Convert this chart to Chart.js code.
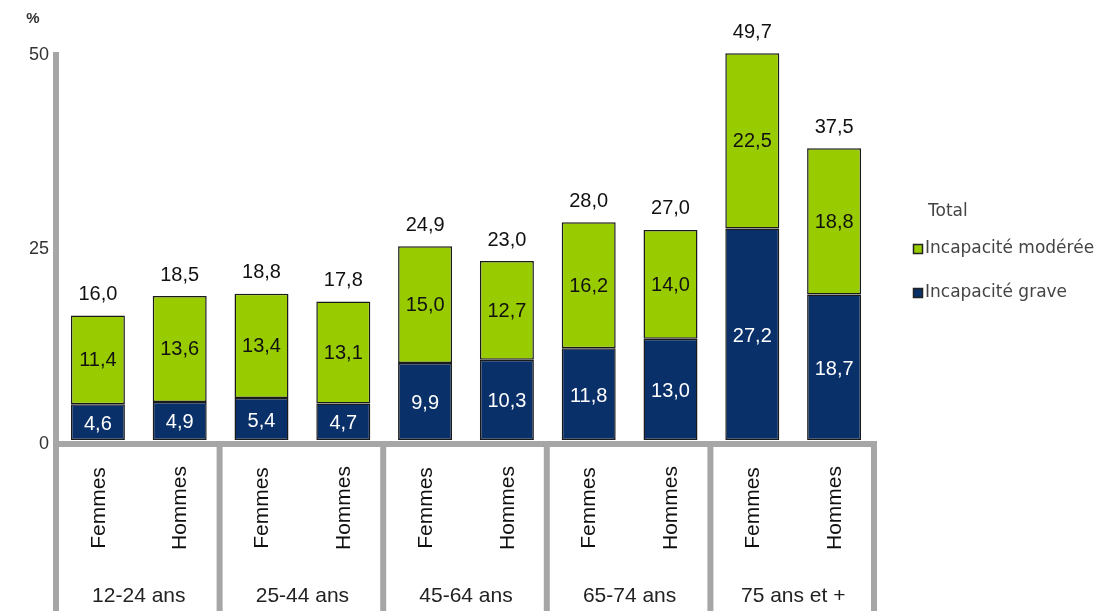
<!DOCTYPE html>
<html>
<head>
<meta charset="utf-8">
<script src="https://cdn.jsdelivr.net/npm/chart.js@4.4.0/dist/chart.umd.min.js"></script>
<style>
  html, body { margin: 0; padding: 0; background: #fff; }
  #wrap { position: relative; width: 1110px; height: 611px; }
</style>
</head>
<body>
<div id="wrap"><canvas id="chart" width="1110" height="611"></canvas></div>
<script>
// Data
const sexes = ["Femmes", "Hommes", "Femmes", "Hommes", "Femmes", "Hommes", "Femmes", "Hommes", "Femmes", "Hommes"];
const ageGroups = ["12-24 ans", "25-44 ans", "45-64 ans", "65-74 ans", "75 ans et +"];
const grave = [4.6, 4.9, 5.4, 4.7, 9.9, 10.3, 11.8, 13.0, 27.2, 18.7];
const moderee = [11.4, 13.6, 13.4, 13.1, 15.0, 12.7, 16.2, 14.0, 22.5, 18.8];
const totals = [16.0, 18.5, 18.8, 17.8, 24.9, 23.0, 28.0, 27.0, 49.7, 37.5];
const yTicks = [0, 25, 50];

const GREEN = "#99cc00";
const NAVY = "#0a3069";
const AXIS = "#a6a6a6";
const FONT = "'Liberation Sans', Arial, sans-serif";
const LEGEND_FONT = "'DejaVu Sans', Verdana, sans-serif";

const fmt = v => v.toFixed(1).replace(".", ",");

// Draws axis lines, group separators, labels and legend
const decorations = {
  id: "decorations",
  beforeDatasetsDraw(chart) {
    const { ctx, chartArea, scales } = chart;
    const x = scales.x;
    const step = x.getPixelForValue(1) - x.getPixelForValue(0);
    ctx.save();
    ctx.fillStyle = AXIS;
    // horizontal base line
    ctx.fillRect(chartArea.left - 3, chartArea.bottom + 1, chartArea.right - chartArea.left + 3, 6);
    // vertical y axis, running down through the category area
    ctx.fillRect(chartArea.left - 4, chartArea.top + 1, 6, chart.height - chartArea.top);
    // group separators
    for (let g = 1; g <= ageGroups.length; g++) {
      const sx = x.getPixelForValue(g * 2 - 1) + step / 2;
      ctx.fillRect(sx - 4, chartArea.bottom + 1, 6, chart.height - chartArea.bottom);
    }
    ctx.restore();
  },
  afterDatasetsDraw(chart) {
    const { ctx, scales } = chart;
    const x = scales.x, y = scales.y;
    ctx.save();
    ctx.textAlign = "center";
    ctx.textBaseline = "middle";

    // y tick labels
    ctx.font = "18px " + FONT;
    ctx.fillStyle = "#333";
    ctx.textAlign = "right";
    yTicks.forEach(v => ctx.fillText(String(v), 49, y.getPixelForValue(v) + 4));
    ctx.textAlign = "center";

    ctx.font = "20px " + FONT;
    sexes.forEach((s, i) => {
      const cx = x.getPixelForValue(i);
      // segment values
      ctx.fillStyle = "#fff";
      ctx.fillText(fmt(grave[i]), cx, y.getPixelForValue(grave[i] / 2) + 2);
      ctx.fillStyle = "#111";
      ctx.fillText(fmt(moderee[i]), cx, y.getPixelForValue(grave[i] + moderee[i] / 2) + 1);
      // totals
      ctx.fillText(fmt(totals[i]), cx, y.getPixelForValue(totals[i]) - 21);
      // rotated sex label
      ctx.save();
      ctx.translate(cx + 1, 508);
      ctx.rotate(-Math.PI / 2);
      ctx.font = "21px " + FONT;
      ctx.fillStyle = "#111";
      ctx.fillText(s, 0, 0);
      ctx.restore();
    });

    // age group labels
    ctx.font = "21px " + FONT;
    ctx.fillStyle = "#222";
    ageGroups.forEach((g, k) => {
      const gx = (x.getPixelForValue(k * 2) + x.getPixelForValue(k * 2 + 1)) / 2;
      ctx.fillText(g, gx, 596);
    });

    // percent unit
    ctx.font = "bold 15px " + FONT;
    ctx.fillStyle = "#333";
    ctx.fillText("%", 33, 19);

    // legend
    ctx.textAlign = "left";
    ctx.font = "17px " + LEGEND_FONT;
    ctx.fillStyle = "#444";
    ctx.fillText("Total", 928, 212);
    [[GREEN, "Incapacité modérée", 249], [NAVY, "Incapacité grave", 293]].forEach(([c, t, ly]) => {
      ctx.fillStyle = c;
      ctx.fillRect(913, ly - 5, 10, 10);
      ctx.strokeStyle = "#222";
      ctx.lineWidth = 1.5;
      ctx.strokeRect(913.5, ly - 4.5, 9, 9);
      ctx.fillStyle = "#444";
      ctx.fillText(t, 925, ly);
    });
    ctx.restore();
  }
};

new Chart(document.getElementById("chart"), {
  type: "bar",
  data: {
    labels: sexes,
    datasets: [
      { label: "Incapacité grave", data: grave, backgroundColor: NAVY },
      { label: "Incapacité modérée", data: moderee, backgroundColor: GREEN }
    ]
  },
  options: {
    responsive: false,
    animation: false,
    layout: { padding: { top: 51, bottom: 171, right: 235, left: 0 } },
    datasets: {
      bar: {
        categoryPercentage: 1,
        barPercentage: 0.66,
        borderColor: "#1a1a1a",
        borderWidth: 1.5,
        borderSkipped: false
      }
    },
    plugins: {
      legend: { display: false },
      tooltip: { enabled: false }
    },
    scales: {
      x: { stacked: true, display: false },
      y: {
        stacked: true,
        min: 0,
        max: 50,
        afterFit: scale => { scale.width = 57; },
        afterBuildTicks: scale => { scale.ticks = yTicks.map(v => ({ value: v })); },
        grid: { display: false, drawTicks: false },
        border: { display: false },
        ticks: { display: false }
      }
    }
  },
  plugins: [decorations]
});
</script>
</body>
</html>
